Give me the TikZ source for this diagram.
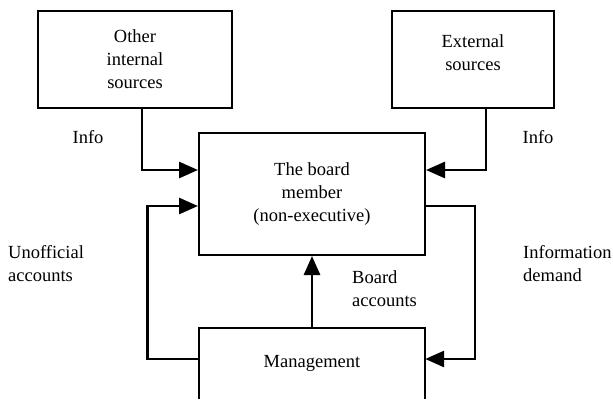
\documentclass[tikz,border=0pt]{standalone}
\usepackage{fontspec}
\setmainfont{Liberation Serif}
\usetikzlibrary{arrows.meta}
\begin{document}
\begin{tikzpicture}[x=1pt,y=-1pt,
  every node/.style={font=\fontsize{18.5pt}{23pt}\selectfont, inner sep=0pt},
  box/.style={draw, line width=2pt, align=center},
  conn/.style={line width=2.8pt, -{Triangle[length=19pt,width=16pt]}},
  lbl/.style={align=left, anchor=west}]
\useasboundingbox (0,0) rectangle (613,399);
\node[box, minimum width=194pt, minimum height=97pt] (oth) at (135,59.5) {Other\\internal\\sources};
\node[box, minimum width=162pt, minimum height=97pt,
  label={[align=center, yshift=7pt]center:External\\sources}] (ext) at (473,59.5) {};
\node[box, minimum width=226pt, minimum height=122pt] (board) at (312,194) {The board\\member\\(non-executive)};
\node[minimum width=226pt, minimum height=71pt] (mgmt) at (312,363.5) {\raisebox{4pt}{Management}};
\draw[line width=2pt] (mgmt.south west) -- (mgmt.north west) -- (mgmt.north east) -- (mgmt.south east);
\draw[conn] ([xshift=7pt]oth.south) |- ([yshift=24pt]board.west);
\draw[conn] ([xshift=13pt]ext.south) |- ([yshift=24pt]board.east);
\draw[conn] ([yshift=4.5pt]mgmt.west) -- ++(-51pt,0) |- ([yshift=-12pt]board.west);
\draw[conn] (mgmt.north) -- (board.south);
\draw[conn] ([yshift=-12pt]board.east) -- ++(49pt,0) |- ([yshift=4.5pt]mgmt.east);
\node (info1) at (88,137) {Info};
\node (info2) at (538,137) {Info};
\node[lbl] (unoff) at (8,263.5) {Unofficial\\accounts};
\node[lbl] (bacc) at (352,288.5) {Board\\accounts};
\node[lbl] (idem) at (523,263.5) {Information\\demand};
\end{tikzpicture}
\end{document}
